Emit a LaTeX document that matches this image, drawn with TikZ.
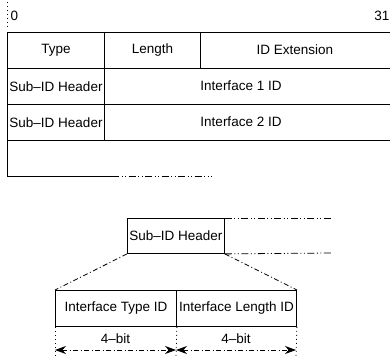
\documentclass[tikz,border=0pt]{standalone}
\usepackage{fontspec}
\setmainfont{Liberation Sans}
\usetikzlibrary{arrows.meta}
\begin{document}
\begin{tikzpicture}[x=1pt,y=-1pt,
  every node/.style={font=\fontsize{13.5}{16}\selectfont, inner sep=0pt},
  frame/.style={line width=1pt},
  cell/.style={draw, line width=1pt, rectangle, anchor=north west},
  dashdotdot/.style={line width=0.8pt, dash pattern=on 7pt off 2.5pt on 1pt off 2.5pt on 1pt off 2.5pt},
  dashdot/.style={line width=0.8pt, dash pattern=on 5pt off 2.5pt on 1pt off 2.5pt},
  tick/.style={line width=0.8pt, dash pattern=on 1pt off 3pt},
  dimarrow/.style={dashdot, {Stealth[length=11pt,width=8pt]}-{Stealth[length=11pt,width=8pt]}}
]
\useasboundingbox (0,0) rectangle (390,358);

% bit positions
\draw[tick] (7,2) -- (7,27);
\node (b0) at (14.5,16) {0};
\node[anchor=east] (b31) at (389.5,16) {31};

% header word
\node[cell, minimum width=97pt, minimum height=36pt] (type) at (7,32) {};
\node[cell, minimum width=96pt, minimum height=36pt] (len) at (104,32) {};
\node[cell, minimum width=200pt, minimum height=36pt] (ext) at (200,32) {};
\node at (type.center) {Type};
\node at (len.center) {Length};
\node at (295,50) {ID Extension};

% sub-ID rows
\node[cell, minimum width=97pt, minimum height=36pt] (sub1) at (7,68) {};
\node[cell, minimum width=296pt, minimum height=36pt] (if1) at (104,68) {};
\node[cell, minimum width=97pt, minimum height=36pt] (sub2) at (7,104) {};
\node[cell, minimum width=296pt, minimum height=36pt] (if2) at (104,104) {};
\node at (sub1.center) {Sub--ID Header};
\node (t1) at (241,86) {Interface 1 ID};
\node at (sub2.center) {Sub--ID Header};
\node (t2) at (241,122) {Interface 2 ID};

% open last row
\coordinate (r4a) at (7,176);
\coordinate (r4b) at (112,176);
\coordinate (r4c) at (212,176);
\draw[frame] (sub2.south west) -- (r4a) -- (r4b);
\draw[dashdotdot] (r4b) -- (r4c);

% enlarged Sub-ID header
\node[draw, line width=0.9pt, minimum width=97pt, minimum height=35pt, anchor=north west] (hdr) at (127,218) {};
\node at (hdr.center) {Sub--ID Header};
\coordinate (hr1) at (332,218);
\coordinate (hr2) at (332,253);
\draw[dashdotdot] (hdr.north east) -- (hr1);
\draw[dashdotdot] (hdr.south east) -- (hr2);

% split into two fields
\node[draw, line width=0.9pt, minimum width=121pt, minimum height=36pt, anchor=north west] (ftype) at (55,290) {};
\node[draw, line width=0.9pt, minimum width=120pt, minimum height=36pt, anchor=north west] (flen) at (176,290) {};
\node at (ftype.center) {Interface Type ID};
\node at (flen.center) {Interface Length ID};
\draw[dashdot] (hdr.south west) -- (ftype.north west);
\draw[dashdot] (hdr.south east) -- (flen.north east);

% field widths
\coordinate (d1) at (55,358);
\coordinate (d2) at (176,358);
\coordinate (d3) at (296,358);
\draw[tick] (ftype.south west) -- (d1);
\draw[tick] (ftype.south east) -- (d2);
\draw[tick] (flen.south east) -- (d3);
\coordinate (a1) at (55,350);
\coordinate (a2) at (176,350);
\coordinate (a3) at (296,350);
\draw[dimarrow] (a1) -- (a2);
\draw[dimarrow] (a2) -- (a3);
\node (w1) at (115.5,339) {4--bit};
\node (w2) at (236,339) {4--bit};
\end{tikzpicture}
\end{document}
